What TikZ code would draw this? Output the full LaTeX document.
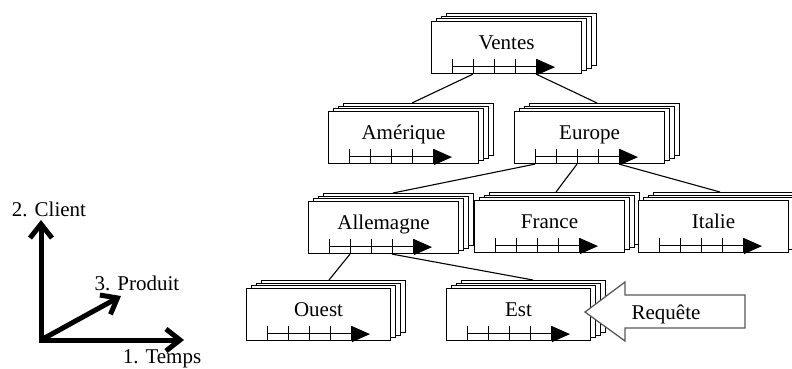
\documentclass[tikz,border=0pt]{standalone}
\usepackage{fontspec}
\setmainfont{Liberation Serif}
\usetikzlibrary{shadows,arrows.meta}
\begin{document}
\begin{tikzpicture}[x=1pt,y=-1pt,
  cube/.style={draw=black, line width=1.1pt, fill=white, anchor=north west,
    minimum width=150pt, inner xsep=0pt, inner ysep=0pt,
    text height=28pt, text depth=24pt,
    font=\fontsize{21}{24}\selectfont,
    copy shadow={shadow xshift=15pt, shadow yshift=8pt, draw=black, fill=white, line width=1.1pt},
    copy shadow={shadow xshift=10pt, shadow yshift=5.3pt, draw=black, fill=white, line width=1.1pt},
    copy shadow={shadow xshift=5pt, shadow yshift=2.7pt, draw=black, fill=white, line width=1.1pt}},
  narrow/.style={minimum width=144pt},
  link/.style={line width=1.1pt},
  tline/.style={line width=0.7pt, double, double distance=1.1pt},
  tick/.style={line width=1pt},
  axe/.style={line width=5pt, line join=miter},
  lbl/.style={anchor=base, font=\fontsize{21}{24}\selectfont, inner sep=0pt},
  reqarrow/.style={draw=black!65, line width=1.3pt, fill=white, line join=miter},
]
\useasboundingbox (0,0) rectangle (792,369);

% boxes
\node[cube] (ventes) at (431,21) {Ventes};
\node[cube] (amer) at (328,111) {Amérique};
\node[cube] (europe) at (514,111) {Europe};
\node[cube] (allem) at (308,201) {Allemagne};
\node[cube] (france) at (474,200) {France};
\node[cube] (italie) at (638,200) {Italie};
\node[cube,narrow] (ouest) at (246,288) {Ouest};
\node[cube,narrow] (est) at (446,288) {Est};

% time axes inside boxes
\foreach \b in {ventes,amer,europe,allem,france,italie,ouest,est}{
  \draw[tline] ([shift={(21,-7)}]\b.south west) -- ([shift={(107,-7)}]\b.south west);
  \foreach \k in {0,...,4}
    \draw[tick] ([shift={(21+21*\k,-15)}]\b.south west) -- ++(0,15);
  \fill ([shift={(106,-15)}]\b.south west) -- ++(18,8) -- ++(-18,8) -- cycle;
}

% connectors
\draw[link] ([xshift=42pt]ventes.south west) -- ([xshift=84pt,yshift=8pt]amer.north west);
\draw[link] ([xshift=105pt]ventes.south west) -- ([xshift=83pt,yshift=8pt]europe.north west);
\draw[link] ([xshift=21pt]europe.south west) -- ([xshift=85pt,yshift=8pt]allem.north west);
\draw[link] ([xshift=63pt]europe.south west) -- ([xshift=82pt,yshift=8pt]france.north west);
\draw[link] ([xshift=105pt]europe.south west) -- ([xshift=82pt,yshift=8pt]italie.north west);
\draw[link] ([xshift=42pt]allem.south west) -- ([xshift=83pt,yshift=8pt]ouest.north west);
\draw[link] ([xshift=84pt]allem.south west) -- ([xshift=87pt,yshift=8pt]est.north west);

% request arrow
\draw[reqarrow] (585,312) -- (625,282) -- (625,295) -- (745,295) -- (745,328)
  -- (625,328) -- (625,341) -- cycle;
\node[lbl] (req) at (666,319) {Requête};

% dimension axes
\coordinate (o) at (41,340);
\coordinate (yc) at (41,220);
\coordinate (xc) at (184,340);
\coordinate (pc) at (121,296);
\draw[axe, {Straight Barb[length=14pt,width=22pt]}-{Straight Barb[length=14pt,width=22pt]}] (yc) -- (o) -- (xc);
\draw[axe, -{Straight Barb[length=14pt,width=22pt]}] (o) -- (pc);
\node[lbl] (client) at (49,216) {2. Client};
\node[lbl] (produit) at (137,290) {3. Produit};
\node[lbl] (temps) at (162,363.5) {1. Temps};
\end{tikzpicture}
\end{document}
